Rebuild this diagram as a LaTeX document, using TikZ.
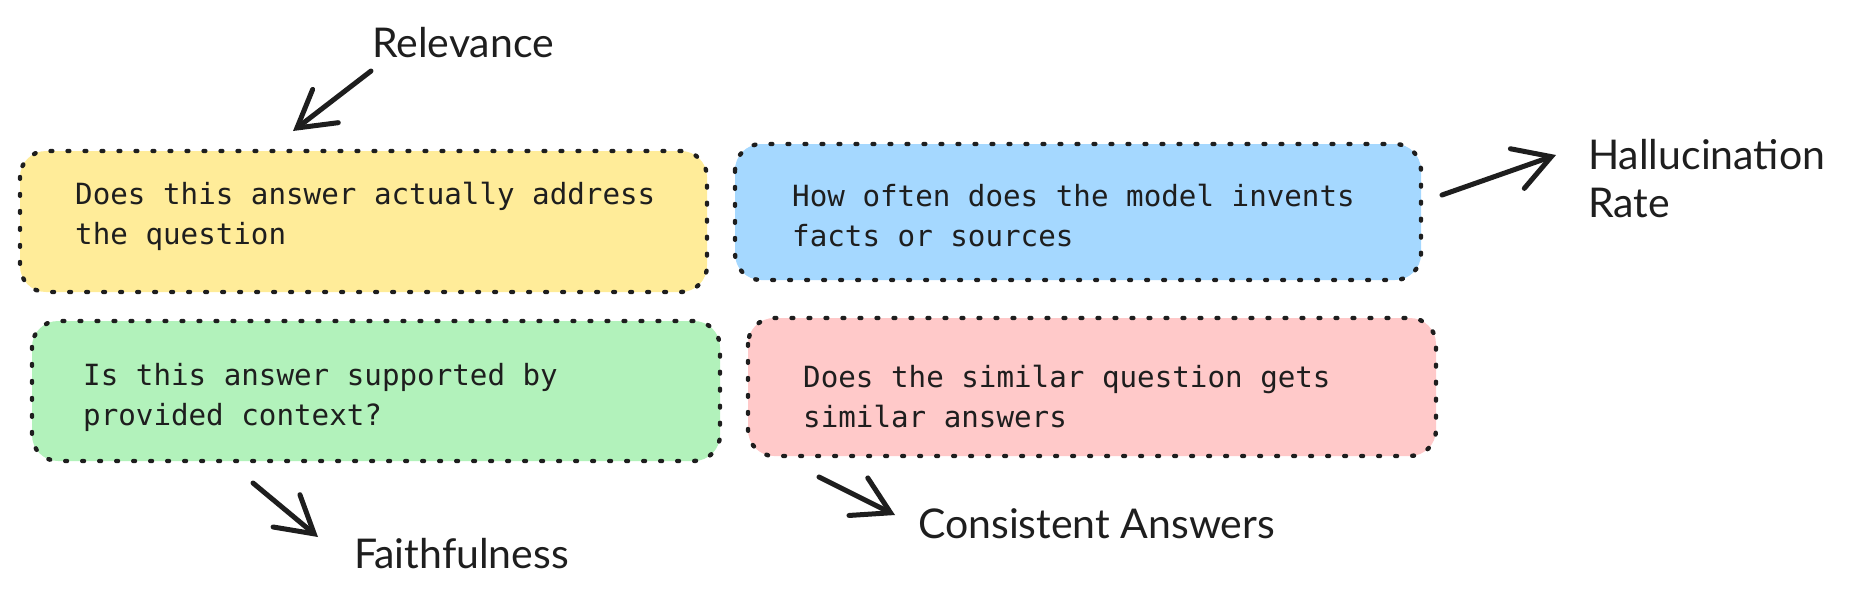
\documentclass[tikz,border=0pt]{standalone}
\usepackage{fontspec}
\setmainfont{Lato}
\newfontfamily\boxfont{DejaVu Sans Mono}
\newfontfamily\labfont{Lato}
\usetikzlibrary{arrows.meta}
\definecolor{ink}{HTML}{1E1E1E}
\definecolor{cyellow}{HTML}{FFEC99}
\definecolor{cblue}{HTML}{A5D8FF}
\definecolor{cgreen}{HTML}{B2F2BB}
\definecolor{cpink}{HTML}{FFC9C9}
\tikzset{
  card/.style={draw=ink, line width=4.4pt, dash pattern=on 1.8pt off 15.2pt, line cap=round, rounded corners=26pt},
  cardtext/.style={anchor=west, align=left, inner sep=0pt, text=ink, font=\boxfont\fontsize{29.2pt}{40pt}\selectfont},
  lab/.style={anchor=base west, align=left, inner sep=0pt, text=ink, font=\labfont\fontsize{41pt}{48pt}\selectfont},
  pointer/.style={draw=ink, line width=5pt, line cap=round, line join=round, -{Straight Barb[length=36pt, width=42pt, line cap=round]}}
}
\begin{document}
\begin{tikzpicture}[x=1pt, y=-1pt]
\useasboundingbox (0,0) rectangle (1862,603);
% cards
\path[card, fill=cyellow] (20,151) rectangle (707,292);
\path[card, fill=cblue] (735,144) rectangle (1421,280);
\path[card, fill=cgreen] (32,321) rectangle (720,461);
\path[card, fill=cpink] (748,318) rectangle (1436,456);
\node[cardtext] (tyellow) at (75,216) {Does this answer actually address\\the question};
\node[cardtext] (tblue) at (792,216) {How often does the model invents\\facts or sources};
\node[cardtext] (tgreen) at (83,397) {Is this answer supported by\\provided context?};
\node[cardtext] (tpink) at (803,397) {Does the similar question gets\\similar answers};
% labels
\node[lab] (lrel) at (372,57) {Relevance};
\node[lab] (lhal) at (1588,217) {Hallucination\\Rate};
\node[lab] (lfai) at (354,568) {Faithfulness};
\node[lab] (lcon) at (918,538) {Consistent Answers};
% arrows
\coordinate (a1s) at (371,71);  \coordinate (a1e) at (293,131);
\coordinate (a2s) at (1442,195); \coordinate (a2e) at (1556,155);
\coordinate (a3s) at (253,483); \coordinate (a3e) at (318,537);
\coordinate (a4s) at (819,477); \coordinate (a4e) at (895,515);
\draw[pointer] (a1s) -- (a1e);
\draw[pointer] (a2s) -- (a2e);
\draw[pointer] (a3s) -- (a3e);
\draw[pointer] (a4s) -- (a4e);
\end{tikzpicture}
\end{document}
